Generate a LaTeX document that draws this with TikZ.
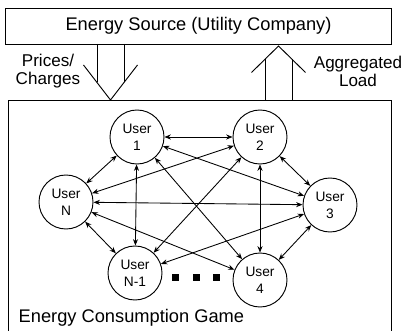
\documentclass[tikz,border=0pt]{standalone}
\usepackage{fontspec}
\setmainfont{Liberation Sans}
\usetikzlibrary{positioning}
\usetikzlibrary{calc}
\usetikzlibrary{arrows.meta}

\begin{document}
\begin{tikzpicture}[x=0.75pt,y=-0.75pt,
    user/.style={circle,draw=black,line width=0.7pt,inner sep=0pt,minimum size=40.5pt,align=center,font=\fontsize{10.3}{12.6}\selectfont},
    link/.style={{Stealth[length=4.8pt,width=3.8pt]}-{Stealth[length=4.8pt,width=3.8pt]},line width=0.65pt},
    block/.style={line width=0.7pt},
  ]

  \useasboundingbox (0,0) rectangle (408,331);

  % utility company on top, game area below
  \node [draw=black,line width=0.7pt,minimum width=289.5pt,minimum height=27pt,font=\fontsize{13.7}{16}\selectfont] (SRC) at (198.5,26) {Energy Source (Utility Company)};
  \node [draw=black,line width=0.7pt,minimum width=287.25pt,minimum height=180pt] (GAME) at (199.5,220) {};
  \node [anchor=west,font=\fontsize{13.7}{16}\selectfont] (GAMELBL) at (14,318) {Energy Consumption Game};

  % users
  \node [user] (U1) at (137,137) {User\\1};
  \node [user] (U2) at (260,137) {User\\2};
  \node [user] (UN) at (66,202) {User\\N};
  \node [user] (U3) at (330,205) {User\\3};
  \node [user] (UN1) at (135,273) {User\\N-1};
  \node [user] (U4) at (260,280) {User\\4};

  % the users in between
  \node [fill=black,inner sep=0pt,minimum size=5.25pt] (DOT1) at (175,278) {};
  \node [fill=black,inner sep=0pt,minimum size=5.25pt] (DOT2) at (196,278) {};
  \node [fill=black,inner sep=0pt,minimum size=5.25pt] (DOT3) at (216,278) {};

  % prices going down
  \coordinate (PL) at (83.5,65);
  \coordinate (PR) at (137.5,65);
  \coordinate (PTIP) at (110.5,100);
  \draw [block] (PL) -- (PTIP) -- (PR);
  \draw [block] (97,44) -- ($(PL)!0.5!(PTIP)$);
  \draw [block] (124,44) -- ($(PR)!0.5!(PTIP)$);
  \node [align=center,font=\fontsize{12.8}{13.5}\selectfont] (PRICES) at (48,71) {Prices/\\Charges};

  % load going up
  \coordinate (LL) at (251.5,72.5);
  \coordinate (LR) at (305.5,72.5);
  \coordinate (LTIP) at (278.5,46);
  \draw [block] (LL) -- (LTIP) -- (LR);
  \draw [block] (265,100) -- ($(LL)!0.5!(LTIP)$);
  \draw [block] (292,100) -- ($(LR)!0.5!(LTIP)$);
  \node [align=center,font=\fontsize{12.8}{13.5}\selectfont] (LOAD) at (358,71) {Aggregated\\Load};

  \draw [link] (U1) -- (U2);
  \draw [link] (U1) -- (UN);
  \draw [link] (U1) -- (U3);
  \draw [link] (U1) -- (UN1);
  \draw [link] (U1) -- (U4);
  \draw [link] (U2) -- (UN);
  \draw [link] (U2) -- (U3);
  \draw [link] (U2) -- (UN1);
  \draw [link] (U2) -- (U4);
  \draw [link] (UN) -- (U3);
  \draw [link] (UN) -- (UN1);
  \draw [link] (UN) -- (U4);
  \draw [link] (U3) -- (UN1);
  \draw [link] (U3) -- (U4);

\end{tikzpicture}
\end{document}
